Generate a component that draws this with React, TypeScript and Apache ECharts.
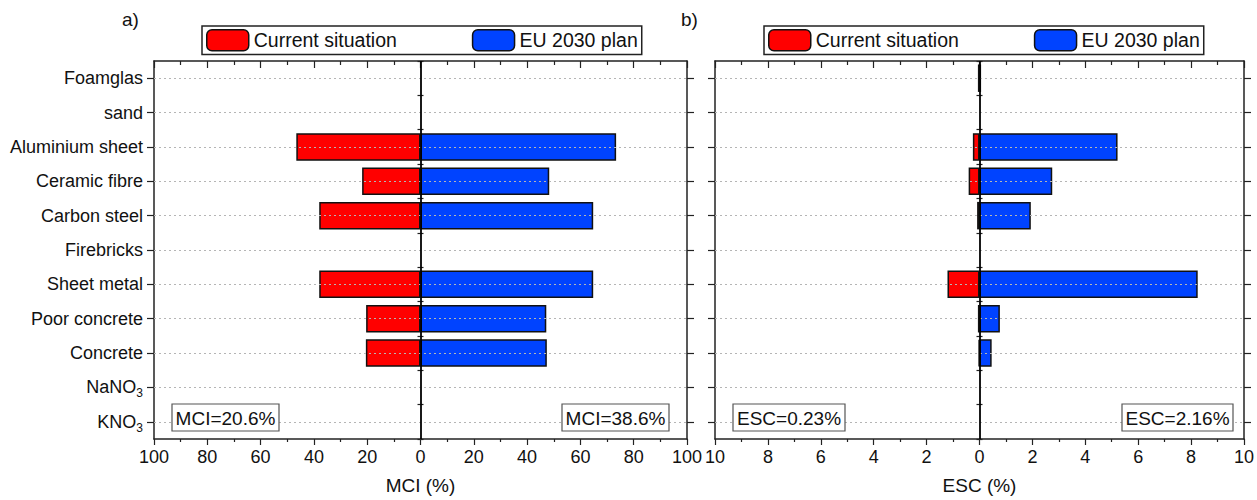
import React, { useEffect, useRef } from "react";
import * as echarts from "echarts";

const categories = [
  "Foamglas",
  "sand",
  "Aluminium sheet",
  "Ceramic fibre",
  "Carbon steel",
  "Firebricks",
  "Sheet metal",
  "Poor concrete",
  "Concrete",
  "NaNO3",
  "KNO3",
];

const seriesNames = ["Current situation", "EU 2030 plan"];

const mciCurrent = [0, 0, 46.6, 21.9, 38.0, 0, 38.0, 20.4, 20.5, 0, 0];
const mciPlan = [0, 0, 73.4, 48.3, 64.8, 0, 64.8, 47.2, 47.4, 0, 0];
const escCurrent = [0.06, 0, 0.25, 0.41, 0.09, 0, 1.21, 0.06, 0.03, 0, 0];
const escPlan = [0.06, 0, 5.22, 2.75, 1.94, 0, 8.25, 0.77, 0.46, 0, 0];

const mciTicks = { min: -100, max: 100, interval: 20 };
const escTicks = { min: -10, max: 10, interval: 2 };

const panelLabels = ["a)", "b)"];
const axisNames = ["MCI (%)", "ESC (%)"];
const indexTexts = ["MCI=20.6%", "MCI=38.6%", "ESC=0.23%", "ESC=2.16%"];

const FONT = "'Liberation Sans', Arial, sans-serif";
const RED = "#ff0000";
const BLUE = "#0043ff";
const TXT = "#111";

const subLabel = (v: string) => {
  const m = v.match(/^(.*?)(\d)$/);
  if (m && (v === "NaNO3" || v === "KNO3")) return `{a|${m[1]}}{s|${m[2]}}`;
  return `{a|${v}}`;
};

export default function App() {
  const ref = useRef<HTMLDivElement>(null);
  useEffect(() => {
    if (!ref.current) return;
    const chart = echarts.init(ref.current, null, { renderer: "svg" });

    const grids = [
      { left: 154, width: 533, top: 61, height: 385 },
      { left: 715, width: 534, top: 61, height: 385 },
    ];
    const scales = [mciTicks, escTicks];

    const xAxes: any[] = [];
    const yAxes: any[] = [];
    const series: any[] = [];

    grids.forEach((g, gi) => {
      const sc = scales[gi];
      xAxes.push({
        type: "value",
        gridIndex: gi,
        position: "bottom",
        min: sc.min,
        max: sc.max,
        interval: sc.interval,
        name: axisNames[gi],
        nameLocation: "middle",
        nameGap: 37,
        nameTextStyle: { fontFamily: FONT, fontSize: 19, color: TXT },
        axisLine: { show: true, onZero: false, lineStyle: { color: "#222", width: 1.5 } },
        axisTick: { show: true, inside: false, length: 6, lineStyle: { color: "#222", width: 1.2 } },
        minorTick: { show: true, splitNumber: 2, length: 3, lineStyle: { color: "#222", width: 1.2 } },
        axisLabel: {
          show: true,
          margin: 9,
          fontFamily: FONT,
          fontSize: 18,
          color: TXT,
          formatter: (v: number) => String(Math.abs(v)),
        },
        splitLine: { show: false },
      });
      xAxes.push({
        type: "value",
        gridIndex: gi,
        position: "top",
        min: sc.min,
        max: sc.max,
        interval: sc.interval,
        axisLine: { show: true, onZero: false, lineStyle: { color: "#222", width: 1.5 } },
        axisTick: { show: true, inside: true, length: 7, lineStyle: { color: "#222", width: 1.2 } },
        minorTick: { show: true, splitNumber: 2, length: 4, lineStyle: { color: "#222", width: 1.2 } },
        axisLabel: { show: false },
        splitLine: { show: false },
      });

      const baseY = {
        type: "category",
        gridIndex: gi,
        data: categories,
        inverse: true,
        splitLine: { show: false },
      };
      yAxes.push({
        ...baseY,
        position: "left",
        axisLine: { show: true, onZero: false, lineStyle: { color: "#222", width: 1.5 } },
        axisTick: { show: true, alignWithLabel: true, length: 7, lineStyle: { color: "#222", width: 1.2 } },
        axisLabel: {
          show: gi === 0,
          margin: 11,
          formatter: subLabel,
          rich: {
            a: { fontFamily: FONT, fontSize: 18, color: TXT, lineHeight: 24 },
            s: { fontFamily: FONT, fontSize: 12, color: TXT, lineHeight: 24, verticalAlign: "bottom" },
          },
        },
      });
      yAxes.push({
        ...baseY,
        position: "left",
        axisLine: { show: false },
        axisTick: { show: true, length: 3, lineStyle: { color: "#222", width: 1.2 } },
        axisLabel: { show: false },
      });
      yAxes.push({
        ...baseY,
        position: "right",
        axisLine: { show: true, onZero: false, lineStyle: { color: "#222", width: 1.5 } },
        axisTick: { show: true, alignWithLabel: true, length: 7, lineStyle: { color: "#222", width: 1.2 } },
        axisLabel: { show: false },
      });
      yAxes.push({
        ...baseY,
        position: "right",
        axisLine: { show: false },
        axisTick: { show: true, length: 3, lineStyle: { color: "#222", width: 1.2 } },
        axisLabel: { show: false },
      });

      const xIdx = gi * 2;
      const yIdx = gi * 4;
      const cur = gi === 0 ? mciCurrent : escCurrent;
      const plan = gi === 0 ? mciPlan : escPlan;

      series.push({
        type: "line",
        name: "grid" + gi,
        xAxisIndex: xIdx,
        yAxisIndex: yIdx,
        data: [],
        z: 1,
        silent: true,
        markLine: {
          silent: true,
          symbol: "none",
          label: { show: false },
          lineStyle: { color: "#b5b5b5", type: [2, 3], width: 1 },
          data: categories.map((c) => ({ yAxis: c })),
        },
      });

      series.push({
        type: "bar",
        name: seriesNames[0],
        xAxisIndex: xIdx,
        yAxisIndex: yIdx,
        stack: "s" + gi,
        barWidth: "80%",
        z: 2,
        itemStyle: { color: RED, borderColor: "#111", borderWidth: 1.5 },
        data: cur.map((v) => (v === 0 ? null : -v)),
      });
      series.push({
        type: "bar",
        name: seriesNames[1],
        xAxisIndex: xIdx,
        yAxisIndex: yIdx,
        stack: "s" + gi,
        barWidth: "80%",
        z: 2,
        itemStyle: { color: BLUE, borderColor: "#111", borderWidth: 1.5 },
        data: plan.map((v) => (v === 0 ? null : v)),
      });
      series.push({
        type: "line",
        name: "zero" + gi,
        xAxisIndex: xIdx,
        yAxisIndex: yIdx,
        data: [],
        z: 3,
        silent: true,
        markLine: {
          silent: true,
          symbol: "none",
          label: { show: false },
          lineStyle: { color: "#000", type: "solid", width: 1.8 },
          data: [{ xAxis: 0 }],
        },
      });
    });

    const legendBase = {
      data: seriesNames,
      orient: "horizontal",
      itemWidth: 42,
      itemHeight: 21,
      itemGap: 75,
      itemStyle: { borderColor: "#111", borderWidth: 1.5 },
      borderColor: "#222",
      borderWidth: 1.5,
      padding: [3, 4, 3, 4],
      textStyle: { fontFamily: FONT, fontSize: 19.5, color: TXT },
      selectedMode: false,
    };

    const box = (x: number, y: number, w: number, h: number, t: string) => ({
      type: "group",
      children: [
        {
          type: "rect",
          shape: { x, y, width: w, height: h },
          style: { fill: "#fff", stroke: "#555", lineWidth: 1.2 },
          z: 10,
        },
        {
          type: "text",
          x: x + w / 2,
          y: y + h / 2 + 1,
          style: {
            text: t,
            font: `19px ${FONT}`,
            fill: TXT,
            textAlign: "center",
            textVerticalAlign: "middle",
          },
          z: 11,
        },
      ],
    });

    chart.setOption({
      animation: false,
      backgroundColor: "#fff",
      grid: grids.map((g) => ({ ...g, containLabel: false })),
      xAxis: xAxes,
      yAxis: yAxes,
      legend: [
        { ...legendBase, left: 202, top: 26 },
        { ...legendBase, left: 764, top: 26 },
      ],
      series,
      graphic: [
        {
          type: "text",
          x: 122,
          y: 19,
          style: { text: panelLabels[0], font: `19px ${FONT}`, fill: TXT, textVerticalAlign: "middle" },
        },
        {
          type: "text",
          x: 681,
          y: 19,
          style: { text: panelLabels[1], font: `19px ${FONT}`, fill: TXT, textVerticalAlign: "middle" },
        },
        box(172, 404, 107, 27, indexTexts[0]),
        box(562, 404, 107, 27, indexTexts[1]),
        box(733, 404, 112, 27, indexTexts[2]),
        box(1122, 404, 111, 27, indexTexts[3]),
      ],
    });

    return () => chart.dispose();
  }, []);

  return (
    <div
      ref={ref}
      style={{ position: "fixed", left: 0, top: 0, width: 1257, height: 500, background: "#fff" }}
    />
  );
}
